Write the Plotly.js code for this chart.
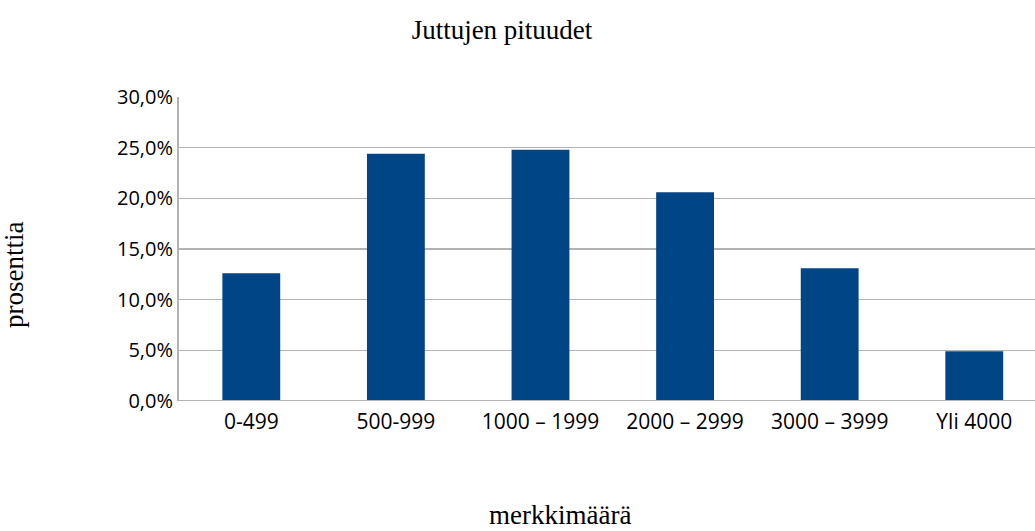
<!DOCTYPE html>
<html><head><meta charset="utf-8">
<script src="https://cdn.plot.ly/plotly-3.0.1.min.js"></script>
<style>body{margin:0;background:#fff}#chart{width:1035px;height:531px}</style>
</head><body><div id="chart"></div>
<script>
const categories = ["0-499", "500-999", "1000 – 1999", "2000 – 2999", "3000 – 3999", "Yli 4000"];
const percentages = [12.6, 24.4, 24.8, 20.6, 13.1, 4.9];
const yTicks = [0, 5, 10, 15, 20, 25, 30];
const yTickLabels = ["0,0%", "5,0%", "10,0%", "15,0%", "20,0%", "25,0%", "30,0%"];

const trace = {
  type: 'bar',
  x: categories.map((c, i) => i),
  y: percentages,
  width: 0.4,
  marker: {color: '#004586'},
  hoverinfo: 'skip'
};

const serif = {family: 'Liberation Serif', size: 27, color: '#000'};

const layout = {
  width: 1035, height: 531,
  margin: {l: 179, r: 0, t: 97, b: 130},
  paper_bgcolor: '#fff', plot_bgcolor: '#fff',
  showlegend: false,
  title: {text: 'Juttujen pituudet', font: serif,
          x: 502/1035, xanchor: 'center', xref: 'container', y: 1 - 30/531, yanchor: 'middle', yref: 'container'},
  xaxis: {
    range: [-0.5, 5.42], tickmode: 'array', tickvals: categories.map((c, i) => i), ticktext: categories,
    showgrid: false, zeroline: false, showline: false, ticks: '', ticklabelstandoff: 6,
    tickfont: {family: 'Open Sans', size: 21, color: '#000'}, fixedrange: true
  },
  yaxis: {
    range: [0, 30], tickmode: 'array', tickvals: yTicks, ticktext: yTickLabels,
    showgrid: true, gridcolor: '#b3b3b3', gridwidth: 1.5, zeroline: false,
    showline: true, linecolor: '#b3b3b3', linewidth: 2, ticks: '', ticklen: 0,
    tickfont: {family: 'Open Sans', size: 20, color: '#000'}, fixedrange: true
  },
  shapes: [{type: 'line', xref: 'paper', yref: 'y', x0: 0, x1: 1, y0: 0, y1: 0, line: {color: '#b3b3b3', width: 2}, layer: 'above'}],
  annotations: [
    {text: 'merkkimäärä', xref: 'paper', yref: 'paper', x: (560-179)/856, y: -(515-401)/304, xanchor: 'center', yanchor: 'middle',
     showarrow: false, font: serif},
    {text: 'prosenttia', xref: 'paper', yref: 'paper', x: -(179-14)/856, y: (401-275)/304, xanchor: 'center', yanchor: 'middle',
     textangle: -90, showarrow: false, font: serif}
  ]
};

Plotly.newPlot('chart', [trace], layout, {displayModeBar: false, staticPlot: true});
</script></body></html>
